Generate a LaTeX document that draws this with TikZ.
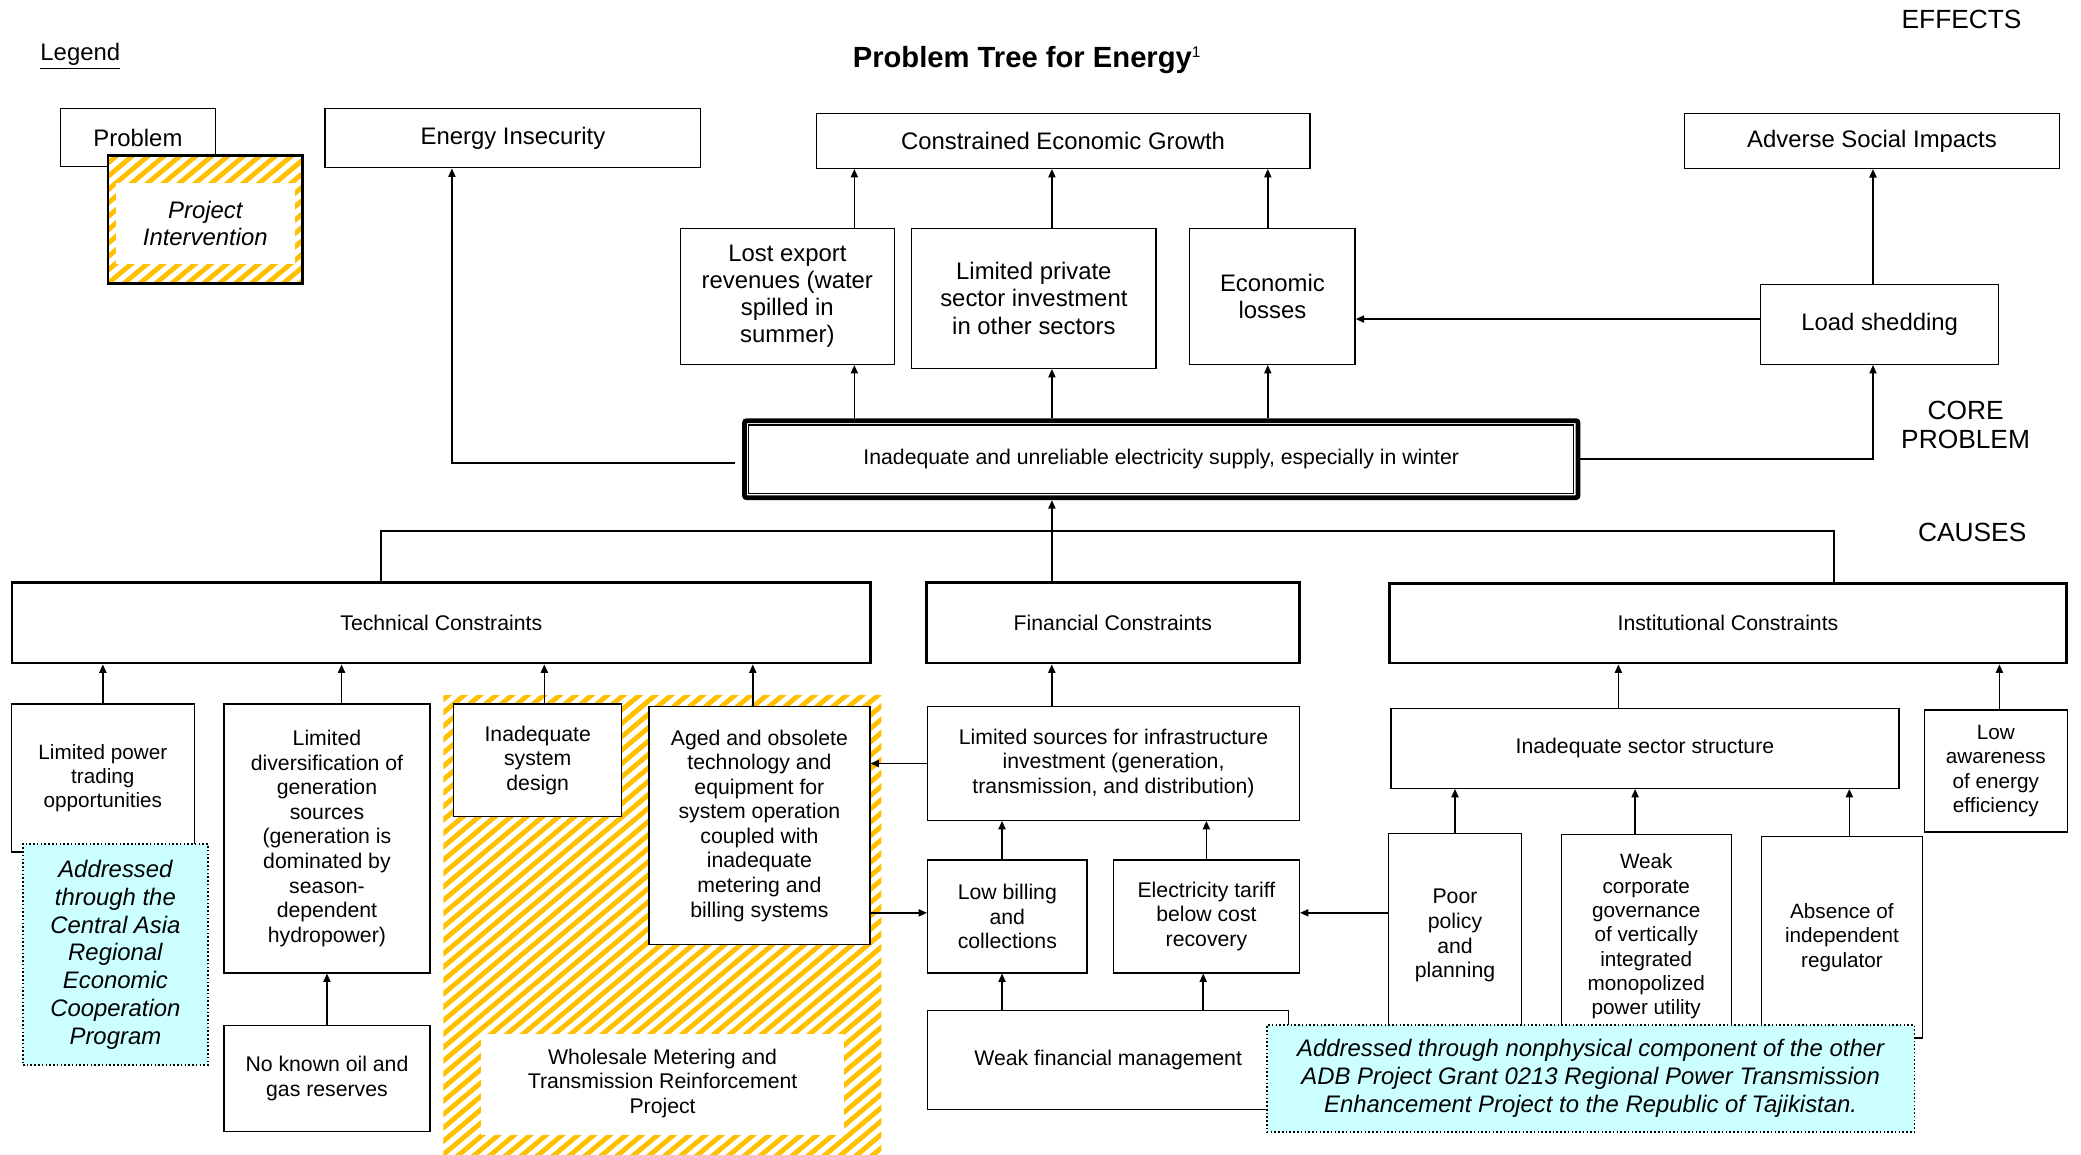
\documentclass[tikz,border=0pt]{standalone}
\usepackage{fontspec}
\setmainfont{Liberation Sans}
\usetikzlibrary{arrows.meta,calc}
\definecolor{hatchy}{HTML}{FFC000}
\definecolor{cyanfill}{HTML}{CCFFFF}
\newcommand\fsA{\fontsize{10.8}{12.3}\selectfont}
\newcommand\fsB{\fontsize{9.6}{11.1}\selectfont}
\newcommand\fsC{\fontsize{9.35}{11.0}\selectfont}
\newcommand\fsD{\fontsize{10.8}{12.55}\selectfont}
\newcommand\fsL{\fontsize{11.9}{13.2}\selectfont}
\newcommand\fsT{\fontsize{13.2}{15}\selectfont}
\newcommand\myhatch[4]{%
  \fill[white] (#1,#2) rectangle (#3,#4);
  \begin{scope}
    \clip (#1,#2) rectangle (#3,#4);
    \foreach \k in {0,...,80} {
      \draw[hatchline] ({#1-450+\k*12},{#4+5}) -- ++(540,-454);
    }
  \end{scope}}
\begin{document}
\begin{tikzpicture}[x=0.6pt,y=-0.6pt,
  rect/.style args={#1/#2/#3/#4}{at={({(#1+#3)/2},{(#2+#4)/2})},
     minimum width={(#3-#1)*0.6pt}, minimum height={(#4-#2)*0.6pt}},
  bx/.style={draw, line width=0.6pt, fill=white, inner sep=0pt, align=center, font=\fsA},
  bxs/.style={bx, font=\fsB},
  bxc/.style={bx, font=\fsC},
  thk/.style={bx, line width=1.3pt, font=\fsB},
  cy/.style={draw, densely dotted, line width=0.7pt, fill=cyanfill, inner sep=0pt, align=center, font=\fsD\itshape},
  arr/.style={-{Triangle[length=3.8pt,width=3.2pt]}, line width=0.75pt},
  ln/.style={line width=0.75pt},
  lbl/.style={font=\fsL, align=center, inner sep=0pt},
  hatchline/.style={line width=2.2pt, color=hatchy}]
\useasboundingbox (0,0) rectangle (1568,870);

% ---------- legend ----------
\node[font=\fsA, inner sep=0pt] (leg) at (60.5,42.5) {\underline{Legend}};
\node[bx, rect=45.4/81.6/162.5/125.6] (lgp) {Problem};
\myhatch{81.4}{117}{228}{213.6}
\fill[white] (87.5,138) rectangle (222,199);
\node[draw, line width=1.3pt, inner sep=0pt, align=center, font=\fsA\itshape, rect=81.4/117/228/213.6] (lgi) {\rule{0pt}{11.4pt}Project\\Intervention};

% ---------- title and side labels ----------
\node[font=\fsT, inner sep=0pt] (title) at (774,45) {\textbf{Problem Tree for Energy}\textsuperscript{\scriptsize 1}};
\node[lbl] (eff) at (1478,15) {EFFECTS};
\node[lbl] (corel) at (1481,320) {CORE\\PROBLEM};
\node[lbl] (cau) at (1486,401) {CAUSES};

% ---------- effects ----------
\node[bx, rect=245/81.6/528/126.4] (ei) {Energy Insecurity};
\node[bx, rect=615/85.5/987/126.8] (ceg) {Constrained Economic Growth};
\node[bx, rect=1269/85.7/1552/126.9] (asi) {Adverse Social Impacts};
\node[bx, rect=512.5/172/674/274.5] (lex) {Lost export\\revenues (water\\spilled in\\summer)};
\node[bx, rect=687/172/871/277.5] (lpi) {Limited private\\sector investment\\in other sectors};
\node[bx, rect=896.5/172/1021/274.5] (el) {Economic\\losses};
\node[bx, rect=1326.5/214.3/1506/274.5] (ls) {Load shedding};

% ---------- core problem ----------
\node[draw, line width=2.2pt, rounded corners=1pt, fill=white, inner sep=0pt, font=\fsB, rect=561/317/1189/375] (core) {Inadequate and unreliable electricity supply, especially in winter};
\draw[line width=0.6pt] ($(core.north west)+(5,5)$) rectangle ($(core.south east)+(-5,-5)$);

% ---------- causes: hatched project area ----------
\myhatch{334}{524}{664}{870}
\node[fill=white, inner sep=0pt, align=center, font=\fsB, rect=362.5/779/636/855] (wm) {Wholesale Metering and\\Transmission Reinforcement\\Project\rule[-3pt]{0pt}{1pt}};

\node[thk, rect=9/439/656/499.5] (tc) {Technical Constraints};
\node[thk, rect=698/439/979/499.5] (fc) {Financial Constraints};
\node[thk, rect=1047/439.5/1557/499.5] (ic) {Institutional Constraints};

\node[bxc, rect=8.7/530.5/146.3/642] (lpt) {Limited power\\trading\\opportunities};
\node[bxs, rect=168.7/530.5/324/733] (ldiv) {Limited\\diversification of\\generation\\sources\\(generation is\\dominated by\\season-\\dependent\\hydropower)};
\node[bxs, rect=168.7/772.6/324/852.4] (nko) {No known oil and\\gas reserves};
\node[bxs, rect=341.8/530.5/468.5/615.3] (isd) {Inadequate\\system\\design};
\node[bxs, rect=489/532.4/655.4/711.7] (aged) {Aged and obsolete\\technology and\\equipment for\\system operation\\coupled with\\inadequate\\metering and\\billing systems};
\node[bxs, rect=699/532.5/979/618] (lsi) {Limited sources for infrastructure\\investment (generation,\\transmission, and distribution)};
\node[bxs, rect=699/648/819/733] (lbc) {Low billing\\and\\collections};
\node[bxs, rect=839/648/979/733] (etb) {Electricity tariff\\below cost\\recovery};
\node[bxs, rect=699/761.6/971/835.8] (wfm) {Weak financial management};
\node[bxs, rect=1048/533.6/1430.8/593.9] (iss) {Inadequate sector structure};
\node[bxc, rect=1450/535/1557.6/627] (law) {Low\\awareness\\of energy\\efficiency};
\node[bxs, rect=1046.4/628/1146.2/782] (ppp) {Poor\\policy\\and\\planning};
\node[bxc, rect=1176.3/629/1304.5/782] (wcg) {Weak\\corporate\\governance\\of vertically\\integrated\\monopolized\\power utility};
\node[bxc, rect=1327/630.5/1448.7/782] (air) {Absence of\\independent\\regulator};

% ---------- connectors: effects ----------
\coordinate (c0) at ($(ei.south west)+(96,0)$);
\coordinate (cw) at ($(core.west)+(-5,3)$);
\draw[arr] (cw) -- (cw -| c0) -- (c0);
\coordinate (c1) at ($(lex.south)+(50.5,0)$);
\draw[arr] (c1 |- core.north) -- (c1);
\draw[arr] (c1 |- lex.north) -- (c1 |- ceg.south);
\coordinate (c2) at ($(lpi.south)+(13.6,0)$);
\draw[arr] (c2 |- core.north) -- (c2);
\draw[arr] (c2 |- lpi.north) -- (c2 |- ceg.south);
\coordinate (c3) at ($(el.south)+(-3.5,0)$);
\draw[arr] (c3 |- core.north) -- (c3);
\draw[arr] (c3 |- el.north) -- (c3 |- ceg.south);
\coordinate (c4) at ($(ls.south)+(-5,0)$);
\draw[arr] (core.east) -- (core.east -| c4) -- (c4);
\draw[arr] (c4 |- ls.north) -- (c4 |- asi.south);
\coordinate (c5) at ($(ls.west)+(0,-4)$);
\draw[arr] (c5) -- (c5 -| el.east);

% ---------- connectors: causes ----------
\coordinate (bL) at (287,400);
\coordinate (bR) at (1382,400);
\coordinate (bM) at (792.6,400);
\draw[ln] (bL |- tc.north) -- (bL) -- (bR) -- (bR |- ic.north);
\draw[arr] (bM |- fc.north) -- (bM |- core.south);

\draw[arr] (lpt.north) -- (lpt.north |- tc.south);
\coordinate (d2) at ($(ldiv.north)+(11,0)$);
\draw[arr] (d2) -- (d2 |- tc.south);
\coordinate (d3) at ($(isd.north)+(5,0)$);
\draw[arr] (d3) -- (d3 |- tc.south);
\coordinate (d4) at ($(aged.north)+(-5,0)$);
\draw[arr] (d4) -- (d4 |- tc.south);
\coordinate (d5) at ($(lsi.north)+(-46.5,0)$);
\draw[arr] (d5) -- (d5 |- fc.south);
\coordinate (d6) at ($(iss.north)+(-20,0)$);
\draw[arr] (d6) -- (d6 |- ic.south);
\coordinate (d7) at ($(law.north)+(2.7,0)$);
\draw[arr] (d7) -- (d7 |- ic.south);
\draw[arr] (lsi.west) -- (lsi.west -| aged.east);
\coordinate (d8) at ($(lbc.west)+(0,-2.7)$);
\draw[arr] (d8 -| aged.east) -- (d8);
\coordinate (d9) at ($(lbc.north)+(-4,0)$);
\draw[arr] (d9) -- (d9 |- lsi.south);
\draw[arr] (etb.north) -- (etb.north |- lsi.south);
\draw[arr] (d9 |- wfm.north) -- (d9 |- lbc.south);
\coordinate (d10) at ($(etb.south)+(-2.4,0)$);
\draw[arr] (d10 |- wfm.north) -- (d10);
\coordinate (d11) at ($(etb.east)+(0,-2.7)$);
\draw[arr] (d11 -| ppp.west) -- (d11);
\draw[arr] (ppp.north) -- (ppp.north |- iss.south);
\coordinate (d12) at ($(wcg.north)+(-8.4,0)$);
\draw[arr] (d12) -- (d12 |- iss.south);
\coordinate (d13) at ($(air.north)+(5.6,0)$);
\draw[arr] (d13) -- (d13 |- iss.south);
\draw[arr] (nko.north) -- (nko.north |- ldiv.south);

% ---------- addressed-by boxes ----------
\node[cy, rect=17.3/636/156.6/802.6] (cyl) {Addressed\\through the\\Central Asia\\Regional\\Economic\\Cooperation\\Program};
\node[cy, rect=954.6/772.4/1442.4/852.8] (cyb) {Addressed through nonphysical component of the other\\ADB Project Grant 0213 Regional Power Transmission\\Enhancement Project to the Republic of Tajikistan.};
\end{tikzpicture}
\end{document}
